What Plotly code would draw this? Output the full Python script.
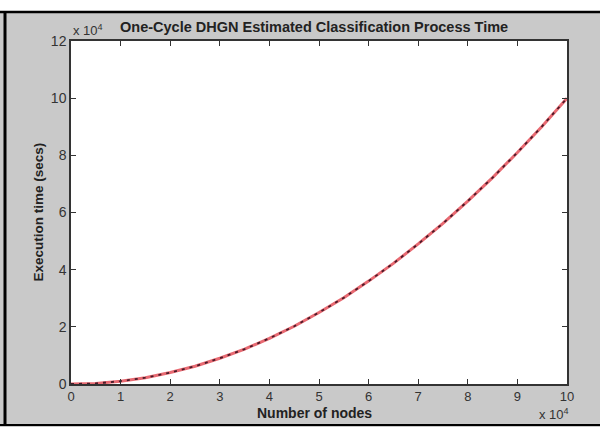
import plotly.graph_objects as go

x_nodes = [0, 0.5, 1, 1.5, 2, 2.5, 3, 3.5, 4, 4.5, 5, 5.5, 6, 6.5, 7, 7.5, 8, 8.5, 9, 9.5, 10]
y_time = [0, 0.02, 0.1, 0.22, 0.4, 0.62, 0.9, 1.22, 1.6, 2.02, 2.5, 3.02, 3.6, 4.22, 4.9, 5.62, 6.4, 7.22, 8.1, 9.02, 10]
x_ticks = [0, 1, 2, 3, 4, 5, 6, 7, 8, 9, 10]
y_ticks = [0, 2, 4, 6, 8, 10, 12]

title_text = "One-Cycle DHGN Estimated Classification Process Time"
x_title = "Number of nodes"
y_title = "Execution time (secs)"

fig = go.Figure()
fig.add_trace(go.Scatter(x=x_nodes, y=y_time, mode="lines",
                         line=dict(color="#e86a72", width=3), showlegend=False))
fig.add_trace(go.Scatter(x=x_nodes, y=y_time, mode="lines",
                         line=dict(color="#4a1a28", width=1.8, dash="3px,5px"), showlegend=False))

font_main = "Liberation Sans, Arial, sans-serif"
fig.update_layout(
    width=600, height=427,
    margin=dict(l=71, r=33, t=41, b=43),
    paper_bgcolor="#c9c9c9", plot_bgcolor="white",
    font=dict(family=font_main, color="#222", size=12),
    xaxis=dict(range=[0, 10], tickvals=x_ticks, ticks="inside", ticklen=5, tickcolor="#333",
               showline=True, linecolor="#333", linewidth=1.5, mirror="ticks",
               showgrid=False, zeroline=False, tickfont=dict(size=13, color="#333")),
    yaxis=dict(range=[0, 12], tickvals=y_ticks, ticks="inside", ticklen=5, tickcolor="#333",
               showline=True, linecolor="#333", linewidth=1.5, mirror="ticks",
               showgrid=False, zeroline=False, tickfont=dict(size=14, color="#333")),
    shapes=[
        dict(type="rect", xref="paper", yref="paper", x0=-0.2, x1=1.1, y0=1.0 + 30/343, y1=1.2,
             fillcolor="white", line=dict(width=0), layer="below"),
        dict(type="line", xref="paper", yref="paper", x0=-71/496, x1=1 + 33/496,
             y0=1 + 29/343, y1=1 + 29/343, line=dict(color="black", width=2.5)),
        dict(type="line", xref="paper", yref="paper", x0=-66/496, x1=-66/496,
             y0=-42/343, y1=1 + 29/343, line=dict(color="black", width=3)),
        dict(type="line", xref="paper", yref="paper", x0=-71/496, x1=1 + 33/496,
             y0=-41/343, y1=-41/343, line=dict(color="black", width=2)),
    ],
    annotations=[
        dict(text="<b>" + title_text + "</b>", xref="paper", yref="paper", x=0.49, y=1.0,
             xanchor="center", yanchor="bottom", yshift=4, showarrow=False,
             font=dict(size=14.5, color="#222")),
        dict(text="<b>" + x_title + "</b>", xref="paper", yref="paper", x=0.49, y=0,
             xanchor="center", yanchor="top", yshift=-19, showarrow=False,
             font=dict(size=14, color="#222")),
        dict(text="<b>" + y_title + "</b>", xref="paper", yref="paper", x=0, y=0.5,
             xanchor="center", yanchor="middle", xshift=-33, textangle=-90, showarrow=False,
             font=dict(size=13.5, color="#222")),
        dict(text="x 10<sup>4</sup>", xref="paper", yref="paper", x=0, y=1,
             xanchor="left", yanchor="bottom", xshift=0, yshift=1, showarrow=False,
             font=dict(size=13, color="#333")),
        dict(text="x 10<sup>4</sup>", xref="paper", yref="paper", x=1, y=0,
             xanchor="right", yanchor="top", xshift=4, yshift=-20, showarrow=False,
             font=dict(size=13, color="#333")),
    ],
)

fig.write_html("out.html")
